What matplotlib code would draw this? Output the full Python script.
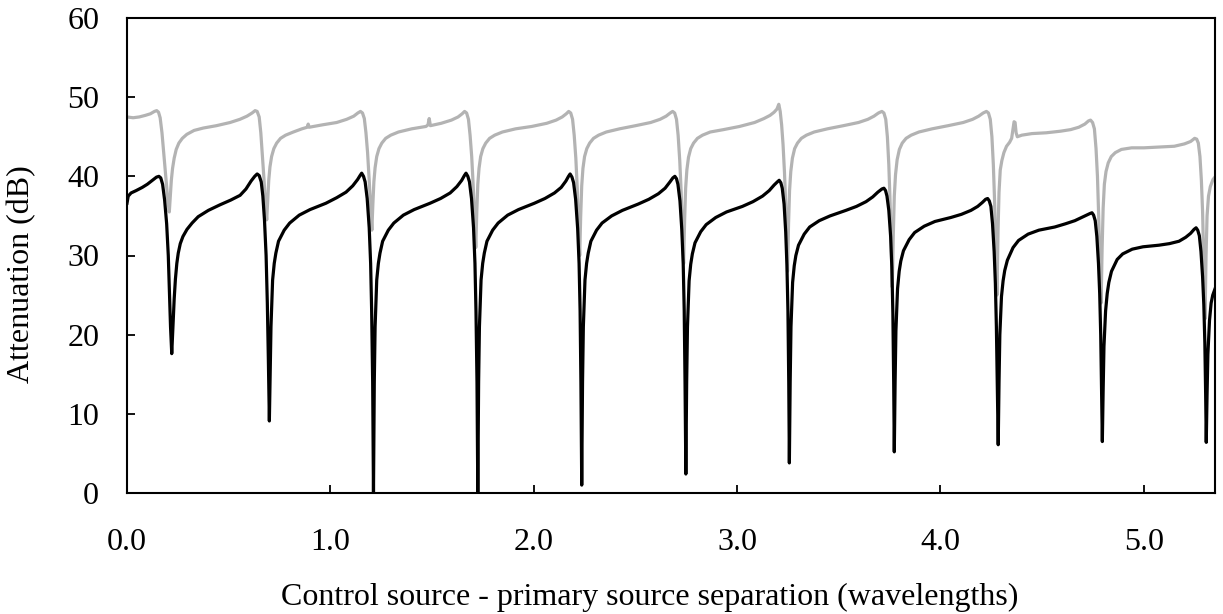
import matplotlib
matplotlib.use("Agg")
import matplotlib.pyplot as plt

plt.rcParams['font.family'] = ['Liberation Serif', 'DejaVu Serif']

# lower curve (black), one cycle per row
black_x = [0.000, 0.006, 0.020, 0.045, 0.075, 0.100, 0.125, 0.145, 0.157, 0.166, 0.175, 0.185, 0.195, 0.203, 0.209, 0.214, 0.220,
           0.226, 0.232, 0.238, 0.245, 0.252, 0.262, 0.275, 0.295, 0.320, 0.350, 0.400, 0.457, 0.510, 0.556, 0.585, 0.610, 0.628, 0.640, 0.650, 0.660, 0.668, 0.676, 0.684, 0.690, 0.695, 0.700,
           0.704, 0.708, 0.716, 0.724, 0.732, 0.745, 0.773, 0.800, 0.847, 0.900, 0.978, 1.031, 1.077, 1.110, 1.134, 1.146, 1.154, 1.163, 1.171, 1.181, 1.191, 1.198, 1.203, 1.208, 1.212,
           1.216, 1.220, 1.228, 1.236, 1.244, 1.257, 1.285, 1.312, 1.359, 1.412, 1.490, 1.542, 1.589, 1.622, 1.646, 1.659, 1.667, 1.676, 1.684, 1.694, 1.704, 1.711, 1.716, 1.721, 1.725,
           1.729, 1.733, 1.741, 1.749, 1.757, 1.770, 1.798, 1.825, 1.872, 1.925, 2.003, 2.055, 2.102, 2.135, 2.158, 2.171, 2.179, 2.188, 2.196, 2.206, 2.216, 2.223, 2.228, 2.232, 2.236,
           2.240, 2.244, 2.252, 2.260, 2.268, 2.281, 2.309, 2.336, 2.383, 2.436, 2.514, 2.566, 2.613, 2.646, 2.670, 2.684, 2.694, 2.702, 2.709, 2.719, 2.728, 2.735, 2.740, 2.744, 2.748,
           2.752, 2.756, 2.764, 2.772, 2.780, 2.793, 2.821, 2.848, 2.895, 2.948, 3.026, 3.078, 3.125, 3.158, 3.182, 3.198, 3.207, 3.215, 3.222, 3.231, 3.239, 3.245, 3.250, 3.254, 3.257,
           3.261, 3.265, 3.273, 3.281, 3.289, 3.302, 3.330, 3.357, 3.404, 3.457, 3.535, 3.587, 3.634, 3.667, 3.692, 3.712, 3.722, 3.730, 3.737, 3.746, 3.755, 3.761, 3.766, 3.770, 3.773,
           3.777, 3.781, 3.789, 3.797, 3.805, 3.818, 3.846, 3.873, 3.920, 3.973, 4.051, 4.103, 4.150, 4.183, 4.206, 4.222, 4.232, 4.240, 4.248, 4.256, 4.264, 4.270, 4.275, 4.280, 4.284,
           4.288, 4.292, 4.300, 4.308, 4.316, 4.329, 4.357, 4.384, 4.431, 4.484, 4.562, 4.614, 4.661, 4.694, 4.718, 4.735, 4.745, 4.753, 4.761, 4.769, 4.777, 4.783, 4.788, 4.792, 4.796,
           4.800, 4.804, 4.812, 4.820, 4.828, 4.841, 4.869, 4.896, 4.943, 4.996, 5.074, 5.126, 5.173, 5.206, 5.230, 5.247, 5.257, 5.265, 5.273, 5.281, 5.289, 5.295, 5.300, 5.304, 5.307,
           5.311, 5.315, 5.323, 5.331, 5.339, 5.353]
black_y = [36.6, 37.5, 37.9, 38.2, 38.6, 39.0, 39.5, 39.9, 40.0, 39.8, 39.0, 37.0, 34.0, 30.0, 25.0, 21.0, 17.6,
           21.0, 24.5, 27.0, 29.0, 30.3, 31.5, 32.4, 33.3, 34.1, 34.9, 35.7, 36.4, 37.0, 37.6, 38.4, 39.4, 40.0, 40.3, 40.1, 39.3, 37.5, 34.5, 30.0, 24.0, 17.0, 9.1,
           15.0, 21.0, 26.9, 29.0, 30.3, 31.8, 33.2, 34.1, 35.1, 35.8, 36.6, 37.3, 38.0, 38.8, 39.6, 40.1, 40.4, 40.0, 39.3, 37.2, 33.5, 29.0, 23.0, 14.0, 0.0,
           14.0, 21.0, 26.9, 29.0, 30.3, 31.8, 33.2, 34.1, 35.1, 35.8, 36.6, 37.2, 37.9, 38.7, 39.5, 40.1, 40.4, 40.0, 39.3, 37.2, 33.5, 29.0, 23.0, 14.0, 0.0,
           14.0, 21.0, 26.9, 29.0, 30.3, 31.8, 33.2, 34.1, 35.1, 35.8, 36.6, 37.2, 37.9, 38.6, 39.4, 40.0, 40.3, 39.9, 39.2, 37.1, 33.4, 29.0, 23.0, 14.0, 1.0,
           14.0, 21.0, 26.9, 29.0, 30.3, 31.8, 33.2, 34.1, 35.0, 35.7, 36.5, 37.1, 37.8, 38.5, 39.3, 39.8, 40.0, 39.7, 39.0, 36.9, 33.3, 29.0, 23.0, 14.0, 2.4,
           14.0, 21.0, 26.8, 28.9, 30.2, 31.6, 33.0, 33.9, 34.8, 35.5, 36.2, 36.8, 37.5, 38.2, 38.9, 39.3, 39.5, 39.2, 38.5, 36.5, 33.0, 28.8, 23.0, 14.0, 3.8,
           14.0, 21.0, 26.6, 28.7, 30.0, 31.3, 32.7, 33.6, 34.4, 35.0, 35.7, 36.2, 36.8, 37.4, 38.0, 38.4, 38.5, 38.2, 37.5, 35.7, 32.4, 28.5, 22.7, 14.0, 5.2,
           14.0, 20.5, 25.8, 28.0, 29.3, 30.6, 32.0, 32.9, 33.7, 34.3, 34.8, 35.2, 35.7, 36.2, 36.7, 37.1, 37.2, 36.9, 36.2, 34.0, 30.5, 26.5, 21.0, 13.0, 6.1,
           14.0, 20.0, 24.8, 26.8, 28.1, 29.4, 31.0, 31.9, 32.7, 33.2, 33.6, 34.0, 34.4, 34.8, 35.1, 35.3, 35.4, 35.1, 34.4, 32.4, 29.0, 25.2, 20.0, 13.0, 6.5,
           13.0, 18.5, 23.0, 25.2, 26.6, 28.0, 29.5, 30.2, 30.8, 31.1, 31.3, 31.5, 31.8, 32.3, 32.8, 33.3, 33.5, 33.2, 32.5, 30.5, 27.3, 23.8, 19.0, 12.5, 6.4,
           12.5, 17.5, 21.8, 24.0, 25.0, 26.0]

# upper curve (grey)
grey_x = [0.000, 0.030, 0.060, 0.090, 0.115, 0.135, 0.146, 0.155, 0.163, 0.172, 0.182, 0.192, 0.200, 0.208,
          0.213, 0.218, 0.224, 0.232, 0.242, 0.255, 0.272, 0.294, 0.330, 0.375, 0.440, 0.507, 0.555, 0.590, 0.615, 0.630, 0.640, 0.650, 0.658, 0.666, 0.674, 0.681, 0.687,
          0.692, 0.697, 0.703, 0.711, 0.722, 0.736, 0.755, 0.780, 0.818, 0.860, 0.886, 0.891, 0.896, 0.960, 1.031, 1.080, 1.115, 1.135, 1.148, 1.158, 1.167, 1.175, 1.183, 1.191, 1.198, 1.204,
          1.209, 1.214, 1.220, 1.228, 1.239, 1.253, 1.272, 1.297, 1.335, 1.400, 1.470, 1.480, 1.486, 1.492, 1.545, 1.595, 1.628, 1.648, 1.660, 1.670, 1.679, 1.687, 1.695, 1.702, 1.709, 1.715,
          1.720, 1.725, 1.731, 1.739, 1.750, 1.764, 1.783, 1.808, 1.846, 1.911, 1.990, 2.064, 2.110, 2.140, 2.160, 2.172, 2.182, 2.191, 2.199, 2.207, 2.214, 2.220, 2.226,
          2.231, 2.236, 2.242, 2.250, 2.261, 2.275, 2.294, 2.319, 2.357, 2.422, 2.501, 2.575, 2.621, 2.651, 2.671, 2.683, 2.693, 2.702, 2.710, 2.718, 2.725, 2.731, 2.737,
          2.742, 2.747, 2.753, 2.761, 2.772, 2.786, 2.805, 2.830, 2.868, 2.933, 3.012, 3.086, 3.132, 3.162, 3.182, 3.196, 3.205, 3.212, 3.219, 3.226, 3.233, 3.239, 3.244, 3.248,
          3.253, 3.258, 3.264, 3.272, 3.283, 3.297, 3.316, 3.341, 3.379, 3.444, 3.523, 3.597, 3.643, 3.673, 3.695, 3.712, 3.722, 3.731, 3.739, 3.746, 3.752, 3.758, 3.763,
          3.768, 3.773, 3.779, 3.787, 3.798, 3.812, 3.831, 3.856, 3.894, 3.959, 4.038, 4.112, 4.158, 4.188, 4.210, 4.226, 4.236, 4.245, 4.253, 4.260, 4.266, 4.272, 4.278,
          4.283, 4.288, 4.294, 4.302, 4.312, 4.325, 4.340, 4.350, 4.357, 4.362, 4.367, 4.372, 4.378, 4.400, 4.450, 4.520, 4.590, 4.640, 4.680, 4.710, 4.728, 4.738, 4.748, 4.757, 4.765, 4.772, 4.778, 4.784, 4.790,
          4.795, 4.800, 4.806, 4.814, 4.825, 4.840, 4.860, 4.890, 4.940, 5.000, 5.080, 5.150, 5.200, 5.230, 5.250, 5.260, 5.268, 5.276, 5.283, 5.289, 5.295, 5.301,
          5.306, 5.311, 5.318, 5.327, 5.340, 5.353]
grey_y = [47.5, 47.4, 47.5, 47.7, 47.9, 48.2, 48.3, 48.1, 47.4, 45.5, 42.5, 39.5, 37.2, 35.5,
          37.5, 39.5, 41.0, 42.3, 43.4, 44.2, 44.8, 45.3, 45.8, 46.1, 46.4, 46.8, 47.2, 47.6, 48.0, 48.3, 48.2, 47.5, 45.5, 42.5, 39.5, 36.5, 34.5,
          37.0, 39.5, 41.2, 42.5, 43.5, 44.2, 44.8, 45.2, 45.6, 46.0, 46.2, 46.6, 46.2, 46.5, 46.8, 47.2, 47.6, 48.0, 48.2, 48.0, 47.3, 45.5, 43.0, 39.5, 36.0, 33.2,
          36.5, 39.3, 41.1, 42.5, 43.5, 44.2, 44.8, 45.2, 45.6, 46.0, 46.3, 46.5, 47.3, 46.4, 46.7, 47.1, 47.5, 47.9, 48.2, 48.0, 47.2, 45.2, 42.5, 39.0, 35.0, 31.0,
          35.5, 39.0, 41.0, 42.5, 43.5, 44.2, 44.8, 45.2, 45.6, 46.0, 46.3, 46.7, 47.1, 47.5, 47.9, 48.2, 48.0, 47.2, 45.2, 42.3, 38.5, 34.0, 30.0,
          35.0, 38.8, 41.0, 42.5, 43.5, 44.2, 44.8, 45.2, 45.6, 46.0, 46.4, 46.8, 47.2, 47.6, 48.0, 48.2, 48.0, 47.2, 45.2, 42.0, 38.0, 33.0, 29.0,
          34.5, 38.5, 40.8, 42.4, 43.5, 44.2, 44.8, 45.2, 45.6, 45.9, 46.3, 46.8, 47.3, 47.7, 48.1, 48.5, 49.1, 48.2, 46.5, 44.0, 40.5, 36.5, 32.0, 28.0,
          34.0, 38.2, 40.6, 42.3, 43.5, 44.2, 44.8, 45.2, 45.6, 46.0, 46.4, 46.8, 47.2, 47.6, 48.0, 48.2, 48.0, 47.2, 45.0, 41.5, 37.0, 31.0, 26.0,
          32.5, 37.5, 40.2, 42.1, 43.4, 44.2, 44.8, 45.2, 45.6, 46.0, 46.4, 46.8, 47.2, 47.6, 48.0, 48.2, 48.0, 47.2, 45.0, 41.5, 37.0, 31.0, 25.0,
          33.0, 38.0, 40.8, 42.0, 43.0, 43.8, 44.3, 44.8, 46.0, 46.9, 46.8, 45.5, 45.0, 45.2, 45.4, 45.5, 45.7, 45.9, 46.2, 46.6, 47.0, 47.1, 46.8, 46.0, 43.5, 40.0, 35.0, 29.0, 24.0,
          31.0, 36.0, 39.0, 40.6, 41.7, 42.5, 43.0, 43.4, 43.6, 43.6, 43.7, 43.8, 44.1, 44.4, 44.8, 44.7, 44.2, 42.5, 39.5, 35.5, 29.0, 22.0,
          30.0, 35.0, 37.5, 38.7, 39.6, 40.0]

x_ticks = [0, 1, 2, 3, 4, 5]
x_tick_labels = ['0.0', '1.0', '2.0', '3.0', '4.0', '5.0']
y_ticks = [0, 10, 20, 30, 40, 50, 60]

fig = plt.figure(figsize=(12.23, 6.14), dpi=100)
ax = fig.add_axes([127 / 1223, 1 - 493 / 614, 1088 / 1223, 475 / 614])

ax.plot(grey_x, grey_y, color='#b3b3b3', lw=2.3, solid_joinstyle='round')
ax.plot(black_x, black_y, color='black', lw=2.3, solid_joinstyle='round')

ax.set_xlim(0, 5.35)
ax.set_ylim(0, 60)
ax.set_xticks(x_ticks)
ax.set_xticklabels(x_tick_labels)
ax.set_yticks(y_ticks)
ax.tick_params(direction='in', length=6, width=1.3, labelsize=23)
ax.tick_params(axis='x', pad=25)
ax.tick_params(axis='y', pad=20)
for sp in ax.spines.values():
    sp.set_linewidth(1.5)

ax.set_xlabel('Control source - primary source separation (wavelengths)', fontsize=23, va='center')
ax.xaxis.set_label_coords(0.48, -0.219)
ax.set_ylabel('Attenuation (dB)', fontsize=23, va='center')
ax.yaxis.set_label_coords(-0.097, 0.46)

fig.savefig('out.png', dpi=100)
